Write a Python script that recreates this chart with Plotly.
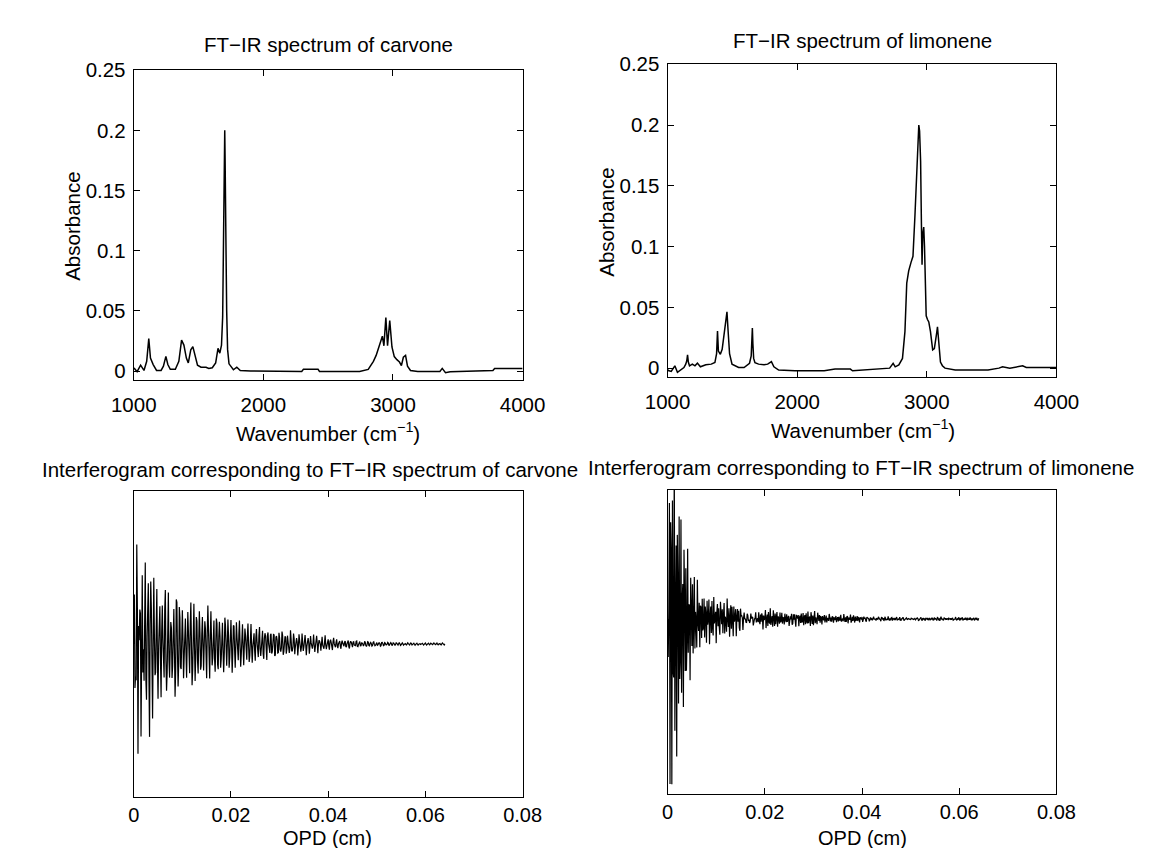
import numpy as np
import plotly.graph_objects as go

W, H = 1155, 848

# ---- data (wavenumber cm^-1, absorbance) ----
carvone_wn = [1000, 1005, 1026, 1053, 1079, 1100, 1116, 1129, 1150, 1176,
              1211, 1229, 1248, 1263, 1282, 1321, 1348, 1369, 1387, 1406,
              1421, 1440, 1456, 1471, 1492, 1519, 1558, 1579, 1606, 1632,
              1650, 1664, 1677, 1686, 1693, 1698, 1702, 1705, 1707, 1709,
              1712, 1717, 1724, 1735, 1769, 1795, 1822, 1901, 2059, 2296,
              2309, 2422, 2433, 2743, 2809, 2849, 2870, 2895, 2907, 2918,
              2930, 2945, 2958, 2975, 2992, 3010, 3030, 3050, 3065, 3080,
              3097, 3112, 3135, 3191, 3362, 3380, 3405, 3441, 3639, 3771,
              3784, 4000]
carvone_abs = [0.002, 0.0022, -0.0005, 0.0049, 0.0005, 0.0081, 0.027, 0.0108, 0.0054, 0.0005,
               0.0005, 0.004, 0.0122, 0.0054, 0.0014, 0.0014, 0.0081, 0.0257, 0.0216, 0.0108,
               0.0068, 0.0176, 0.0203, 0.0135, 0.0049, 0.0032, 0.0032, 0.0022, 0.0027, 0.0068,
               0.0189, 0.0149, 0.0216, 0.045, 0.1, 0.16, 0.2, 0.175, 0.13, 0.165,
               0.1, 0.05, 0.018, 0.006, 0.0011, 0.0032, 0.0005, 0.0, -0.0003, -0.0003,
               0.0014, 0.0014, -0.0003, -0.0003, 0.0014, 0.0081, 0.013, 0.021, 0.026, 0.029,
               0.021, 0.0445, 0.021, 0.042, 0.02, 0.012, 0.0095, 0.0075, 0.0045, 0.0115,
               0.013, 0.004, 0.0005, -0.0003, -0.0003, 0.0022, -0.0014, -0.0005, 0.0, 0.0005,
               0.0022, 0.0022]

limonene_wn = [1000, 1006, 1028, 1056, 1076, 1098, 1126, 1140, 1148, 1154,
               1160, 1169, 1191, 1211, 1230, 1253, 1295, 1337, 1365, 1378,
               1385, 1392, 1407, 1421, 1441, 1451, 1458, 1466, 1478, 1497,
               1520, 1548, 1590, 1632, 1645, 1650, 1654, 1658, 1664, 1674,
               1702, 1744, 1772, 1801, 1820, 1857, 1983, 2208, 2292, 2410,
               2427, 2713, 2740, 2756, 2784, 2812, 2831, 2845, 2860, 2878,
               2893, 2908, 2924, 2938, 2944, 2952, 2958, 2963, 2968, 2976,
               2982, 2988, 2995, 3005, 3015, 3028, 3045, 3058, 3068, 3076,
               3082, 3089, 3097, 3105, 3120, 3140, 3219, 3472, 3556, 3584,
               3640, 3697, 3739, 3767, 4000]
limonene_abs = [-0.001, -0.002, -0.0027, 0.0019, -0.0035, -0.0016, 0.0005, 0.0033, 0.006, 0.0109,
                0.005, 0.0019, 0.0033, 0.0019, 0.0041, 0.0011, 0.0027, 0.0033, 0.0046, 0.012,
                0.0305, 0.014, 0.0114, 0.0155, 0.0346, 0.042, 0.0463, 0.032, 0.012, 0.0033,
                0.0019, 0.0005, 0.0005, 0.004, 0.01, 0.025, 0.033, 0.02, 0.008, 0.0045,
                0.0033, 0.0027, 0.0033, 0.0054, 0.0011, -0.0016, -0.0022, -0.0022, -0.0008, -0.0008,
                -0.0022, 0.0, 0.004, 0.0011, 0.0027, 0.008, 0.03, 0.07, 0.08, 0.087,
                0.092, 0.125, 0.172, 0.2, 0.195, 0.17, 0.12, 0.085, 0.11, 0.116,
                0.1, 0.07, 0.043, 0.04, 0.038, 0.03, 0.015, 0.016, 0.022, 0.029,
                0.034, 0.026, 0.012, 0.005, 0.002, 0.0, -0.0016, -0.0016, 0.0, 0.0011,
                0.0, 0.0011, 0.0019, 0.0005, 0.0005]

spec_xticks = [1000, 2000, 3000, 4000]
spec_yticks = [0, 0.05, 0.1, 0.15, 0.2, 0.25]
spec_ytext = ["0", "0.05", "0.1", "0.15", "0.2", "0.25"]
opd_ticks = [0, 0.02, 0.04, 0.06, 0.08]
opd_text = ["0", "0.02", "0.04", "0.06", "0.08"]

# OPD sampling of the interferograms (0 ... 0.064 cm)
opd_step = 0.000125
opd_points = 513
opd = np.arange(opd_points) * opd_step


def interferogram(wn, ab):
    """Cosine transform of the (mean-removed) spectrum read above."""
    grid = np.arange(1000.0, 4000.5, 0.5)
    spec = np.interp(grid, wn, ab)
    spec = spec - spec.mean()
    return (spec[None, :] * np.cos(2 * np.pi * grid[None, :] * opd[:, None])).sum(axis=1)


ig_carv = interferogram(carvone_wn, carvone_abs)
ig_limo = interferogram(limonene_wn, limonene_abs)

FONT = "Liberation Sans, Arial, Helvetica, sans-serif"
FS = 20.5


def xd(l, r):
    return [l / W, r / W]


def yd(t, b):
    return [1 - b / H, 1 - t / H]


boxes = {
    1: dict(x=(107, 512), y=(51, 366)),
    2: dict(x=(663, 1068), y=(45, 363)),
    3: dict(x=(107, 512), y=(479, 790)),
    4: dict(x=(663, 1068), y=(478, 787)),
}

fig = go.Figure()
line = dict(color="black", width=1.5)
fig.add_trace(go.Scatter(x=carvone_wn, y=carvone_abs, mode="lines", line=line, xaxis="x", yaxis="y"))
fig.add_trace(go.Scatter(x=limonene_wn, y=limonene_abs, mode="lines", line=line, xaxis="x2", yaxis="y2"))
fig.add_trace(go.Scatter(x=opd, y=ig_carv, mode="lines", line=dict(color="black", width=1.2),
                         xaxis="x3", yaxis="y3"))
fig.add_trace(go.Scatter(x=opd, y=ig_limo, mode="lines", line=dict(color="black", width=1.2),
                         xaxis="x4", yaxis="y4"))

common = dict(showline=True, linecolor="black", linewidth=1.2, mirror="ticks", ticks="inside",
              ticklen=6, tickcolor="black", showgrid=False, zeroline=False,
              tickfont=dict(family=FONT, size=FS, color="black"))

lay = {}
yr = {1: [-0.0074, 0.25], 2: [-0.0073, 0.25]}
for i in (1, 2):
    b = boxes[i]
    sfx = "" if i == 1 else str(i)
    lay["xaxis" + sfx] = dict(common, domain=xd(*b["x"]), anchor="y" + sfx, range=[1000, 4000],
                              tickvals=spec_xticks, ticktext=[str(v) for v in spec_xticks],
                              ticklabelstandoff=6)
    lay["yaxis" + sfx] = dict(common, domain=yd(*b["y"]), anchor="x" + sfx, range=yr[i],
                              tickvals=spec_yticks, ticktext=spec_ytext, ticklabelstandoff=3)

# interferogram axes: zero placed where the reference baseline sits
c_hi = np.max(np.abs(ig_carv[1:])) * 156 / 112
tail = (opd >= 0.008) & (opd <= 0.025)
l_tail = np.max(np.abs(ig_limo[tail]))
l_neg = -np.min(ig_limo)
l_scale = max(l_tail / 28.0, l_neg / 168.0)
for i, rng in ((3, [-c_hi, c_hi]), (4, [-178 * l_scale, 131 * l_scale])):
    b = boxes[i]
    lay["xaxis%d" % i] = dict(common, domain=xd(*b["x"]), anchor="y%d" % i, range=[0, 0.08],
                              tickvals=opd_ticks, ticktext=opd_text, ticklabelstandoff=0,
                              tickfont=dict(family=FONT, size=20, color="black"))
    lay["yaxis%d" % i] = dict(showline=True, linecolor="black", linewidth=1.2, mirror=True,
                              ticks="", showticklabels=False, showgrid=False, zeroline=False,
                              domain=yd(*b["y"]), anchor="x%d" % i, range=rng)

ann = []


def text(x, y, s, angle=0, size=FS):
    ann.append(dict(x=x / W, y=1 - y / H, xref="paper", yref="paper", text=s, showarrow=False,
                    xanchor="center", yanchor="middle", textangle=angle,
                    font=dict(family=FONT, size=size, color="black")))


text(310, 25, "FT\u2212IR spectrum of carvone")
text(866, 21, "FT\u2212IR spectrum of limonene")
text(291, 457, "Interferogram corresponding to FT\u2212IR spectrum of carvone")
text(864, 455, "Interferogram corresponding to FT\u2212IR spectrum of limonene")
text(309, 419, "Wavenumber (cm<sup>\u22121</sup>)")
text(866, 416, "Wavenumber (cm<sup>\u22121</sup>)")
text(309, 832, "OPD (cm)", size=20)
text(866, 832, "OPD (cm)", size=20)
text(43, 210, "Absorbance", -90)
text(599, 206, "Absorbance", -90)

fig.update_layout(width=W, height=H, margin=dict(l=0, r=0, t=0, b=0), showlegend=False,
                  plot_bgcolor="white", paper_bgcolor="white", annotations=ann,
                  hovermode=False, **lay)

fig.write_html("out.html")
